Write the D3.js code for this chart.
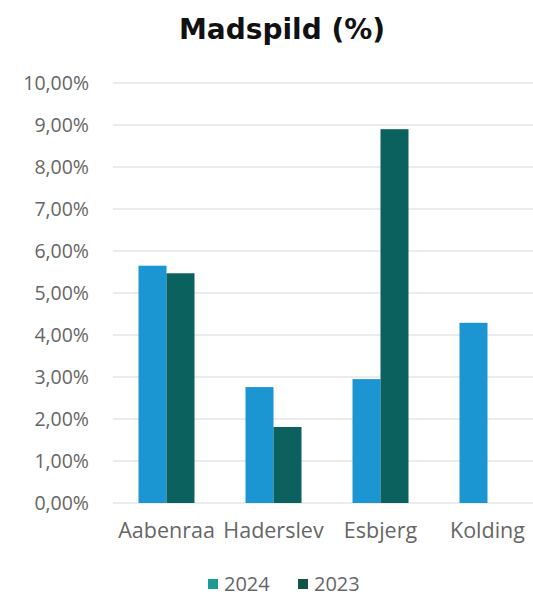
<!DOCTYPE html>
<html>
<head>
<meta charset="utf-8">
<script src="https://cdn.jsdelivr.net/npm/d3@7"></script>
<style>
  body { margin: 0; background: #fff; }
  text { font-family: "Open Sans", "Noto Sans", sans-serif; }
</style>
</head>
<body>
<div id="svg-area"></div>
<script>
// data
var cities = ["Aabenraa", "Haderslev", "Esbjerg", "Kolding"];
var years = ["2024", "2023"];
var values2024 = [5.65, 2.76, 2.95, 4.29];
var values2023 = [5.47, 1.81, 8.9, 0];
var yTicks = [0, 1, 2, 3, 4, 5, 6, 7, 8, 9, 10];

var svgWidth = 533;
var svgHeight = 596;

var svg = d3.select("#svg-area")
  .append("svg")
  .attr("width", svgWidth)
  .attr("height", svgHeight);

var xScale = d3.scaleBand()
  .domain(cities)
  .range([113, 541])
  .paddingInner(0)
  .paddingOuter(0);

var xInner = d3.scaleBand()
  .domain(years)
  .range([0, 56]);

var yScale = d3.scaleLinear()
  .domain([0, 10])
  .range([503, 83]);

// gridlines
svg.append("g")
  .selectAll("line")
  .data(yTicks)
  .enter()
  .append("line")
  .attr("x1", 113)
  .attr("x2", 533)
  .attr("y1", d => yScale(d))
  .attr("y2", d => yScale(d))
  .attr("stroke", "#d9d9d9")
  .attr("stroke-width", 1);

// y axis labels
var leftAxis = d3.axisLeft(yScale)
  .tickValues(yTicks)
  .tickSize(0)
  .tickPadding(0)
  .tickFormat(d => d3.format(".2f")(d).replace(".", ",") + "%");

var yAxis = svg.append("g")
  .attr("transform", "translate(89,0)")
  .call(leftAxis);
yAxis.select(".domain").remove();
yAxis.selectAll("text")
  .attr("fill", "#666")
  .attr("font-size", "19.5px");

// bars
var rows = cities.map((c, i) => ({city: c, vals: [
  {year: "2024", v: values2024[i]},
  {year: "2023", v: values2023[i]}
]}));

var colors = {"2024": "#1c96d3", "2023": "#0b615e"};

var groups = svg.append("g")
  .selectAll("g")
  .data(rows)
  .enter()
  .append("g")
  .attr("transform", d => `translate(${xScale(d.city) + xScale.bandwidth() / 2 - 28}, 0)`);

groups.selectAll("rect")
  .data(d => d.vals.filter(e => e.v > 0))
  .enter()
  .append("rect")
  .attr("x", d => xInner(d.year))
  .attr("width", xInner.bandwidth())
  .attr("y", d => yScale(d.v))
  .attr("height", d => yScale(0) - yScale(d.v))
  .attr("fill", d => colors[d.year]);

// x axis labels
var bottomAxis = d3.axisBottom(xScale).tickSize(0).tickPadding(0);
var xAxis = svg.append("g")
  .attr("transform", "translate(0,523)")
  .call(bottomAxis);
xAxis.select(".domain").remove();
xAxis.selectAll("text")
  .attr("fill", "#666")
  .attr("font-size", "21.5px");

// title
svg.append("text")
  .attr("x", 282)
  .attr("y", 39)
  .attr("text-anchor", "middle")
  .style("font-family", "'DejaVu Sans', sans-serif")
  .attr("font-size", "28px")
  .attr("font-weight", "bold")
  .attr("fill", "#111")
  .text("Madspild (%)");

// legend
var legendColors = {"2024": "#1a9c95", "2023": "#125448"};
var legendX = [208, 298];
var legend = svg.append("g")
  .selectAll("g")
  .data(years)
  .enter()
  .append("g")
  .attr("transform", (d, i) => `translate(${legendX[i]}, 584)`);

legend.append("rect")
  .attr("x", 0)
  .attr("y", -5)
  .attr("width", 10)
  .attr("height", 10)
  .attr("fill", d => legendColors[d]);

legend.append("text")
  .attr("x", 16)
  .attr("y", 7)
  .attr("font-size", "20px")
  .attr("fill", "#666")
  .text(d => d);
</script>
</body>
</html>
